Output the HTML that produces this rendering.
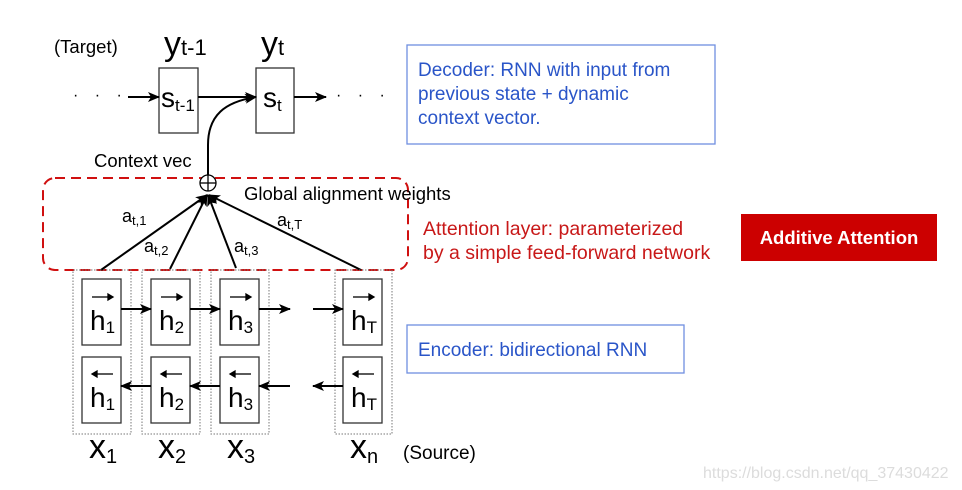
<!DOCTYPE html>
<html><head><meta charset="utf-8"><style>
html,body{margin:0;padding:0;background:#fff;}
svg{display:block;font-family:"Liberation Sans","DejaVu Sans",sans-serif;}
</style></head><body>
<svg width="962" height="490" viewBox="0 0 962 490" xmlns="http://www.w3.org/2000/svg">
<defs>
<marker id="ar" markerWidth="12" markerHeight="10" refX="11" refY="5" orient="auto" markerUnits="userSpaceOnUse">
<path d="M0,0 L12,5 L0,10 L3,5 Z" fill="#000"/></marker>
</defs>
<rect width="962" height="490" fill="#fff"/>
<text x="54" y="53" font-size="18.5">(Target)</text>
<text x="164" y="55" font-size="34">y<tspan font-size="22">t-1</tspan></text>
<text x="261" y="55" font-size="34">y<tspan font-size="22">t</tspan></text>
<rect x="159" y="68" width="39" height="65" fill="#fff" stroke="#333" stroke-width="1.3"/>
<rect x="256" y="68" width="38" height="65" fill="#fff" stroke="#333" stroke-width="1.3"/>
<text x="161" y="107" font-size="28">s<tspan font-size="17" dy="4">t-1</tspan></text>
<text x="263" y="107" font-size="28">s<tspan font-size="17" dy="4">t</tspan></text>
<text x="73" y="100" font-size="16" letter-spacing="6">· · ·</text>
<text x="336" y="100" font-size="16" letter-spacing="6">· · ·</text>
<g stroke="#000" stroke-width="2" fill="none">
<line x1="128" y1="97" x2="159" y2="97" marker-end="url(#ar)"/>
<line x1="198" y1="97" x2="256" y2="97" marker-end="url(#ar)"/>
<line x1="294" y1="97" x2="326" y2="97" marker-end="url(#ar)"/>
<path d="M208,175 L208,145 C208,115 225,102 256,97" marker-end="url(#ar)"/>
</g>
<text x="94" y="167" font-size="18.5">Context vec</text>
<rect x="43" y="178" width="365" height="92" rx="12" fill="none" stroke="#d01010" stroke-width="2" stroke-dasharray="10,6"/>
<circle cx="208" cy="183" r="8" fill="#fff" stroke="#000" stroke-width="1.3"/>
<line x1="200" y1="183" x2="216" y2="183" stroke="#000" stroke-width="1.3"/>
<line x1="208" y1="175" x2="208" y2="191" stroke="#000" stroke-width="1.3"/>
<text x="244" y="200" font-size="18.5">Global alignment weights</text>
<g stroke="#000" stroke-width="2" fill="none">
<line x1="101" y1="270" x2="207" y2="195" marker-end="url(#ar)"/>
<line x1="170" y1="269" x2="207" y2="195" marker-end="url(#ar)"/>
<line x1="236" y1="268" x2="208" y2="195" marker-end="url(#ar)"/>
<line x1="361" y1="270" x2="209" y2="195" marker-end="url(#ar)"/>
</g>
<text x="122" y="222" font-size="18">a<tspan font-size="13" dy="3">t,1</tspan></text>
<text x="144" y="252" font-size="18">a<tspan font-size="13" dy="3">t,2</tspan></text>
<text x="234" y="252" font-size="18">a<tspan font-size="13" dy="3">t,3</tspan></text>
<text x="277" y="226" font-size="18">a<tspan font-size="13" dy="3">t,T</tspan></text>
<g fill="none" stroke="#777" stroke-width="1" stroke-dasharray="1.5,1.5">
<rect x="73" y="270" width="58" height="164"/>
<rect x="142" y="270" width="58" height="164"/>
<rect x="211" y="270" width="58" height="164"/>
<rect x="335" y="270" width="57" height="164"/>
</g>
<g fill="#fff" stroke="#333" stroke-width="1.3">
<rect x="82" y="279" width="39" height="66"/><rect x="82" y="357" width="39" height="66"/>
<rect x="151" y="279" width="39" height="66"/><rect x="151" y="357" width="39" height="66"/>
<rect x="220" y="279" width="39" height="66"/><rect x="220" y="357" width="39" height="66"/>
<rect x="343" y="279" width="39" height="66"/><rect x="343" y="357" width="39" height="66"/>
</g>
<g font-size="28">
<text x="90" y="330">h<tspan font-size="17" dy="3">1</tspan></text>
<text x="159" y="330">h<tspan font-size="17" dy="3">2</tspan></text>
<text x="228" y="330">h<tspan font-size="17" dy="3">3</tspan></text>
<text x="351" y="330">h<tspan font-size="17" dy="3">T</tspan></text>
<text x="90" y="407">h<tspan font-size="17" dy="3">1</tspan></text>
<text x="159" y="407">h<tspan font-size="17" dy="3">2</tspan></text>
<text x="228" y="407">h<tspan font-size="17" dy="3">3</tspan></text>
<text x="351" y="407">h<tspan font-size="17" dy="3">T</tspan></text>
</g>
<g stroke="#000" stroke-width="1.3" fill="#000">
<line x1="92" y1="297" x2="108" y2="297"/><path d="M108,294 L113,297 L108,300Z"/>
<line x1="161" y1="297" x2="177" y2="297"/><path d="M177,294 L182,297 L177,300Z"/>
<line x1="230" y1="297" x2="246" y2="297"/><path d="M246,294 L251,297 L246,300Z"/>
<line x1="353" y1="297" x2="369" y2="297"/><path d="M369,294 L374,297 L369,300Z"/>
<line x1="97" y1="374" x2="113" y2="374"/><path d="M97,371 L92,374 L97,377Z"/>
<line x1="166" y1="374" x2="182" y2="374"/><path d="M166,371 L161,374 L166,377Z"/>
<line x1="235" y1="374" x2="251" y2="374"/><path d="M235,371 L230,374 L235,377Z"/>
<line x1="358" y1="374" x2="374" y2="374"/><path d="M358,371 L353,374 L358,377Z"/>
</g>
<g stroke="#000" stroke-width="2" fill="none">
<line x1="121" y1="309" x2="151" y2="309" marker-end="url(#ar)"/>
<line x1="190" y1="309" x2="220" y2="309" marker-end="url(#ar)"/>
<line x1="259" y1="309" x2="290" y2="309" marker-end="url(#ar)"/>
<line x1="313" y1="309" x2="343" y2="309" marker-end="url(#ar)"/>
<line x1="151" y1="386" x2="121" y2="386" marker-end="url(#ar)"/>
<line x1="220" y1="386" x2="190" y2="386" marker-end="url(#ar)"/>
<line x1="290" y1="386" x2="259" y2="386" marker-end="url(#ar)"/>
<line x1="343" y1="386" x2="313" y2="386" marker-end="url(#ar)"/>
</g>
<g font-size="34">
<text x="89" y="458">x<tspan font-size="20" dy="5">1</tspan></text>
<text x="158" y="458">x<tspan font-size="20" dy="5">2</tspan></text>
<text x="227" y="458">x<tspan font-size="20" dy="5">3</tspan></text>
<text x="350" y="458">x<tspan font-size="20" dy="5">n</tspan></text>
</g>
<text x="403" y="459" font-size="19">(Source)</text>
<rect x="407" y="45" width="308" height="99" fill="none" stroke="#6f8fe0" stroke-width="1.3"/>
<g fill="#2a55c8" font-size="19">
<text x="418" y="76">Decoder: RNN with input from</text>
<text x="418" y="100">previous state + dynamic</text>
<text x="418" y="124">context vector.</text>
<text x="418" y="356">Encoder: bidirectional RNN</text>
</g>
<g fill="#c81818" font-size="19.5">
<text x="423" y="235">Attention layer: parameterized</text>
<text x="423" y="259">by a simple feed-forward network</text>
</g>
<rect x="741" y="214" width="196" height="47" fill="#cc0000"/>
<text x="839" y="244" font-size="18.5" font-weight="bold" fill="#fff" text-anchor="middle">Additive Attention</text>
<rect x="407" y="325" width="277" height="48" fill="none" stroke="#6f8fe0" stroke-width="1.3"/>
<text x="703" y="478" font-size="16" fill="#dcdcdc">https://blog.csdn.net/qq_37430422</text>
</svg>
</body></html>
